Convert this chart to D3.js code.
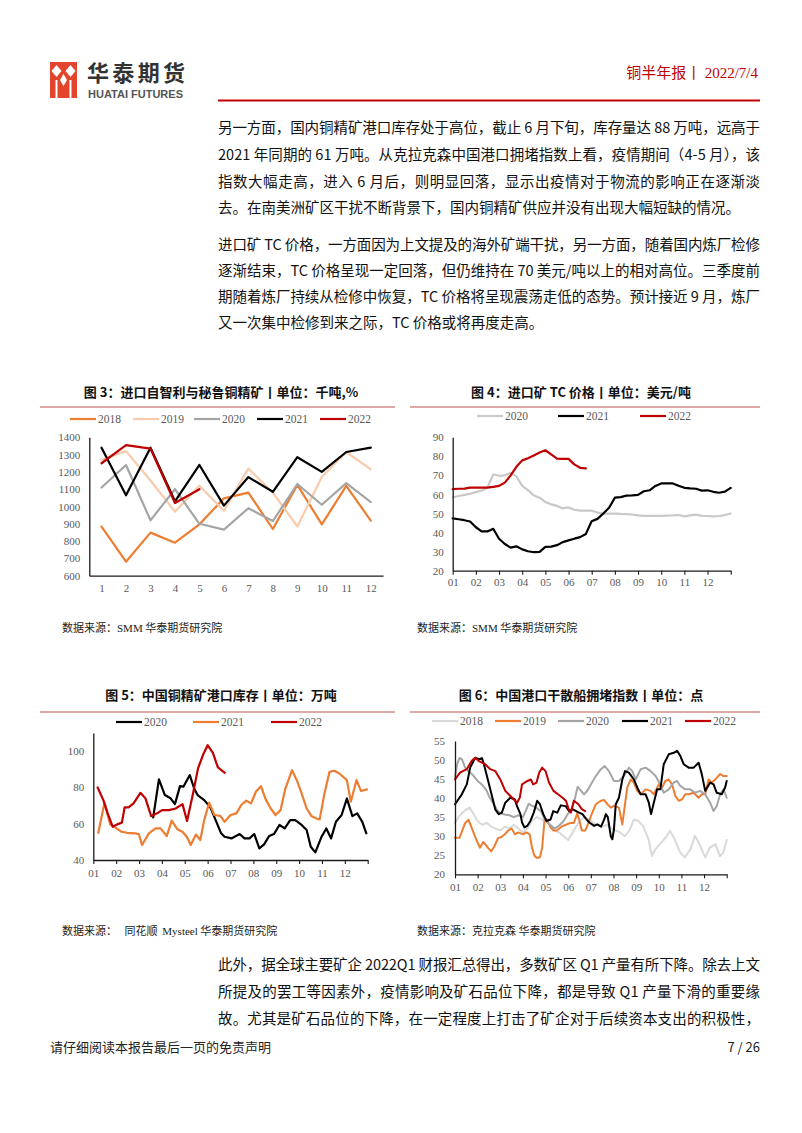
<!DOCTYPE html>
<html><head><meta charset="utf-8">
<script src="https://cdn.jsdelivr.net/npm/d3@7"></script>
<style>body{margin:0;background:#fff}svg{display:block}</style>
</head><body>
<svg id="page" width="802" height="1133"></svg>
<script>
// ---------------- DATA ----------------
// Chart 3: imports from Chile & Peru (kt), monthly
const months3 = ["1","2","3","4","5","6","7","8","9","10","11","12"];
const imp2018 = [884,681,849,791,897,1047,1080,870,1125,897,1119,918];
const imp2019 = [1270,1320,1150,970,1120,975,1220,1080,885,1170,1315,1215];
const imp2020 = [1110,1240,920,1100,900,866,990,916,1130,1010,1135,1025];
const imp2021 = [1340,1065,1340,1030,1240,1005,1170,1085,1285,1200,1315,1340];
const imp2022 = [1250,1355,1335,1020,1100];
const yTicks3 = [600,700,800,900,1000,1100,1200,1300,1400];

// Chart 4: TC price (USD/t), sampled every quarter month from Jan 1
const tcStep = 0.25;
const tc2020 = [58.5,59.2,59.8,60.3,61.3,62,63.7,70.6,69.8,70,71.3,69.5,64.5,62.3,59.5,58.3,56,54.8,54,52.7,53.2,52,51.5,51.5,51.5,50.5,50,50,50,49.8,49.7,49.5,49,48.8,48.8,48.8,48.8,48.9,49,49.2,48.5,49,49.4,48.8,48.7,48.5,48.7,49.2,50];
const tc2021 = [47.5,47,46.5,45.8,42.8,40.6,40.6,42,36.8,34,32.1,32.8,31.2,30.2,29.7,29.9,32.5,32.6,33.4,35,35.9,36.8,37.6,39.3,46,47.2,50,53,58.3,58.6,59.4,59.5,59.8,61.7,62.2,64.5,65.8,65.8,65.8,64.6,63.5,63.2,63,62,62.2,61.4,60.9,61.5,63.5];
const tc2022 = [62.8,63,63.1,63.6,63.6,63.6,63.6,64,64.5,66.2,70,74.5,77.9,79,80.5,82,83.2,81,78.8,78.7,78.7,75.8,74,73.7];
const yTicks4 = [20,30,40,50,60,70,80,90];
const monthLabels = ["01","02","03","04","05","06","07","08","09","10","11","12"];

// Chart 5: port inventory (10kt); [months elapsed since Jan 1, value]
const inv2020 = [[2.62,63.5],[2.87,84.4],[3.13,75.8],[3.38,74],[3.57,70.8],[3.79,80.7],[3.94,80.4],[4.22,86.8],[4.41,79.4],[4.56,75.8],[4.85,73],[5.12,69],[5.35,62],[5.59,54.7],[5.74,52.8],[6.04,51.9],[6.4,54.3],[6.61,51.9],[6.83,51.9],[7.04,54.3],[7.26,46.4],[7.47,48.6],[7.69,53.2],[7.9,54.3],[8.14,59.3],[8.37,57.4],[8.61,62],[8.83,62],[9.11,59.3],[9.33,56.5],[9.51,47.3],[9.71,44.2],[9.97,52.5],[10.19,57.4],[10.4,51.9],[10.61,61.1],[10.86,64.8],[11.09,73.9],[11.33,64.2],[11.54,65.7],[11.76,61.1],[11.94,54.7]];
const inv2021 = [[0.22,55],[0.49,71.6],[0.74,59.6],[0.96,58],[1.22,55.6],[1.47,55],[1.84,54.7],[1.99,54.3],[2.13,48.3],[2.43,54.7],[2.72,57.4],[2.94,57.4],[3.21,53.2],[3.43,61.7],[3.68,56.9],[3.9,55.6],[4.09,52.8],[4.26,48.3],[4.49,54],[4.68,51],[4.85,62],[5.07,71.6],[5.29,64.8],[5.56,64.3],[5.74,61],[6.0,64.8],[6.26,65.7],[6.47,70.3],[6.69,72.7],[6.9,71.2],[7.11,77.6],[7.33,80.7],[7.54,73.4],[7.76,68.4],[7.97,64.8],[8.19,67.5],[8.4,79.4],[8.69,89.5],[8.9,84],[9.11,76.7],[9.33,68.4],[9.54,64.2],[9.76,62.9],[9.9,62.4],[10.11,76.7],[10.33,88.6],[10.54,89.2],[10.76,87.7],[11.09,84],[11.26,72.1],[11.51,84],[11.71,78],[11.97,78.9]];
const inv2022 = [[0.19,80],[0.44,73],[0.63,65.7],[0.85,58.3],[1.02,59.5],[1.25,60.6],[1.37,69],[1.54,69],[1.76,71.2],[2.06,77],[2.28,74],[2.53,64.2],[2.79,65.7],[3.01,67.5],[3.31,67.5],[3.6,68.4],[3.9,70.8],[4.1,61.5],[4.35,76],[4.58,90.5],[4.8,98],[5.0,103.3],[5.23,99],[5.45,91],[5.75,88]];
const yTicks5 = [40,60,80,100];

// Chart 6: China port dry-bulk congestion index; [months elapsed, value]
const cg2018 = [[0,33.5],[0.15,35],[0.3,36],[0.5,37],[0.65,37.5],[0.8,36],[1.0,34],[1.2,33],[1.4,33.5],[1.6,32.5],[1.8,32],[2.0,31.5],[2.2,32.5],[2.4,32],[2.6,33],[2.8,32],[3.0,31],[3.2,32],[3.4,34],[3.6,35],[3.8,34.5],[4.0,34],[4.2,33],[4.4,31.5],[4.6,31],[4.8,30],[5.0,29],[5.15,30.5],[5.3,32],[5.5,34],[5.7,35],[5.9,34.5],[6.1,33.5],[6.3,33],[6.5,32.5],[6.7,33],[6.9,32],[7.1,31.5],[7.3,31],[7.5,30],[7.7,31.5],[7.9,34.4],[8.1,34],[8.3,32.7],[8.55,29.2],[8.7,24.8],[8.85,26.6],[9.05,27.9],[9.3,29.6],[9.5,31.4],[9.7,29.2],[9.95,25.7],[10.15,24.4],[10.4,26.6],[10.6,30.1],[10.8,27.9],[11.05,24.4],[11.25,27],[11.5,27.9],[11.7,24.8],[11.85,25.7],[12,29]];
const cg2019 = [[0,29.6],[0.2,29.6],[0.45,33.5],[0.6,34.3],[0.75,32],[0.95,29],[1.1,27],[1.25,28.5],[1.45,27],[1.6,26],[1.75,27.5],[1.9,29.5],[2.05,29.8],[2.2,30.5],[2.35,31.5],[2.5,32],[2.65,30.5],[2.8,31],[3.0,30.5],[3.15,31],[3.3,30.5],[3.4,27],[3.5,25],[3.6,24.3],[3.75,24.5],[3.85,27],[3.95,34],[4.05,34.5],[4.2,32.5],[4.35,31.5],[4.5,31.5],[4.7,32.5],[4.9,33],[5.1,33.5],[5.25,33.5],[5.4,36],[5.5,34],[5.6,31.5],[5.75,31.5],[5.9,33.5],[6.0,35.3],[6.22,38.4],[6.44,39.3],[6.59,39.5],[6.73,38.4],[6.88,37.5],[7.02,38],[7.24,37.5],[7.39,33.1],[7.5,38],[7.61,42.8],[7.76,44.9],[7.9,44.1],[8.05,41.9],[8.2,41],[8.42,42.3],[8.64,41.9],[8.78,41],[9.0,43.6],[9.15,42.8],[9.29,44.5],[9.44,44.9],[9.59,43.6],[9.73,40.6],[9.88,39.3],[10.03,39.7],[10.17,41],[10.32,41],[10.54,41.4],[10.76,40.1],[10.9,41],[11.05,41],[11.2,44.9],[11.34,44.1],[11.49,44.9],[11.71,46.3],[11.86,45.8],[12,45.8]];
const cg2020 = [[0,45.5],[0.1,49],[0.2,50.5],[0.3,50.3],[0.45,48],[0.6,47],[0.8,46],[1.0,44.5],[1.2,43.5],[1.4,42],[1.5,40.5],[1.7,38.5],[1.85,37],[2.0,36],[2.2,35.7],[2.4,35.5],[2.6,35],[2.8,35.5],[3.0,35],[3.15,37],[3.25,38.5],[3.4,38],[3.6,37.5],[3.8,36.5],[4.0,34],[4.2,33],[4.4,32],[4.6,32.8],[4.8,34],[5.0,36],[5.15,37],[5.3,40],[5.42,43],[5.55,42],[5.7,41],[5.85,42],[6.0,43.6],[6.22,45.8],[6.44,47.6],[6.61,48.4],[6.8,47.1],[7.02,44.5],[7.24,44.5],[7.46,45.8],[7.68,48],[7.83,47.1],[7.98,44.9],[8.2,47.6],[8.42,48],[8.64,47.1],[8.86,45.8],[9.07,43.6],[9.22,41.4],[9.44,42.3],[9.66,44.1],[9.81,44.5],[9.95,43.2],[10.17,42.3],[10.39,42.3],[10.61,41.4],[10.83,41.9],[11.05,41],[11.27,38.8],[11.42,36.6],[11.56,37.9],[11.71,41],[11.86,42.3],[12,40.1]];
const cg2021 = [[0,38.4],[0.3,41],[0.52,43.6],[0.67,48],[0.89,50.6],[1.08,50.2],[1.19,50.5],[1.26,49.3],[1.41,45.8],[1.63,40.6],[1.78,37],[1.93,35.8],[2.07,36.2],[2.22,38.8],[2.44,40.1],[2.64,39.7],[2.74,37.9],[2.89,35.8],[2.96,33.6],[3.07,32.3],[3.19,32.7],[3.33,34],[3.48,36.2],[3.63,39.3],[3.75,38.4],[3.9,35.8],[4.04,34],[4.22,34.4],[4.34,36.6],[4.52,36.2],[4.67,38.1],[4.89,37.9],[5.04,36.6],[5.19,37.1],[5.41,36.4],[5.63,35.8],[5.78,34.6],[5.93,33.6],[6.15,32.7],[6.29,33.1],[6.45,32.5],[6.59,34.4],[6.66,35.8],[6.75,35],[6.88,30],[6.95,29.2],[7.02,31.8],[7.1,38.4],[7.24,40.1],[7.39,44.9],[7.51,47.1],[7.68,46.7],[7.9,44.9],[8.05,42.8],[8.2,41],[8.42,41],[8.56,38.8],[8.66,35.8],[8.78,38.8],[8.93,42.3],[9.07,42.3],[9.22,48.9],[9.44,51.5],[9.66,51.9],[9.81,52.4],[9.95,51.1],[10.1,48.9],[10.32,48],[10.54,48],[10.76,49.3],[10.9,46.3],[11.05,41.9],[11.27,44.1],[11.42,43.6],[11.56,41.4],[11.78,41],[11.93,42.8],[12,44.5]];
const cg2022 = [[0,44.9],[0.22,46.7],[0.52,47.6],[0.74,49.8],[0.89,50.6],[1.04,49.8],[1.19,49.3],[1.33,48.9],[1.56,47.6],[1.78,47.1],[2.0,44.9],[2.22,41.9],[2.37,41],[2.59,39.7],[2.74,38.8],[2.86,40.1],[2.96,43.6],[3.19,44.5],[3.35,44.9],[3.45,43.6],[3.6,44.1],[3.72,46.7],[3.85,48],[4.0,47.1],[4.15,44.1],[4.35,41.9],[4.55,41],[4.75,40.1],[4.9,39.3],[5.02,37.1],[5.12,36.2],[5.25,39.3],[5.45,38.4],[5.6,37.1],[5.75,36.6]];
const yTicks6 = [20,25,30,35,40,45,50,55];

// Text
const para1 = ["另一方面，国内铜精矿港口库存处于高位，截止 6 月下旬，库存量达 88 万吨，远高于",
  "2021 年同期的 61 万吨。从克拉克森中国港口拥堵指数上看，疫情期间（4-5 月），该",
  "指数大幅走高，进入 6 月后，则明显回落，显示出疫情对于物流的影响正在逐渐淡",
  "去。在南美洲矿区干扰不断背景下，国内铜精矿供应并没有出现大幅短缺的情况。"];
const para2 = ["进口矿 TC 价格，一方面因为上文提及的海外矿端干扰，另一方面，随着国内炼厂检修",
  "逐渐结束，TC 价格呈现一定回落，但仍维持在 70 美元/吨以上的相对高位。三季度前",
  "期随着炼厂持续从检修中恢复，TC 价格将呈现震荡走低的态势。预计接近 9 月，炼厂",
  "又一次集中检修到来之际，TC 价格或将再度走高。"];
const para3 = ["此外，据全球主要矿企 2022Q1 财报汇总得出，多数矿区 Q1 产量有所下降。除去上文",
  "所提及的罢工等因素外，疫情影响及矿石品位下降，都是导致 Q1 产量下滑的重要缘",
  "故。尤其是矿石品位的下降，在一定程度上打击了矿企对于后续资本支出的积极性，"];

// ---------------- DRAW ----------------
const CJK = "'Noto Sans CJK SC','Noto Sans',sans-serif";
const SERIF = "'Liberation Serif','Times New Roman',serif";
const svg = d3.select("#page");
svg.append("rect").attr("width",802).attr("height",1133).attr("fill","#fff");

// Header logo
const logo = svg.append("g");
logo.append("rect").attr("x",50).attr("y",62).attr("width",27).attr("height",36).attr("fill","#E2452B");
[[56.5,71],[70.5,71]].forEach(([cx,cy])=>{
  logo.append("path").attr("d",`M${cx},${cy-6}L${cx+5},${cy}L${cx},${cy+6}L${cx-5},${cy}Z`).attr("fill","#fff");
});
logo.append("rect").attr("x",55.5).attr("y",80).attr("width",2).attr("height",18).attr("fill","#fff");
logo.append("rect").attr("x",69.5).attr("y",80).attr("width",2).attr("height",18).attr("fill","#fff");
logo.append("path").attr("d","M63.5,74L67,80L63.5,86L60,80Z").attr("fill","#fff");
svg.append("text").attr("x",87).attr("y",81).attr("font-family",CJK).attr("font-size",22).attr("font-weight",700)
  .attr("fill","#333").attr("textLength",98).text("华泰期货");
svg.append("text").attr("x",88).attr("y",98).attr("font-family","'Liberation Sans',Arial,sans-serif").attr("font-size",11).attr("font-weight",700)
  .attr("fill","#555").attr("textLength",95).attr("lengthAdjust","spacingAndGlyphs").text("HUATAI FUTURES");
const hdr = svg.append("text").attr("x",758).attr("y",78).attr("text-anchor","end").attr("fill","#C00000").attr("font-size",15);
hdr.append("tspan").attr("font-family",CJK).text("铜半年报丨 ");
hdr.append("tspan").attr("font-family",SERIF).text("2022/7/4");
svg.append("line").attr("x1",218).attr("x2",760).attr("y1",100.5).attr("y2",100.5).attr("stroke","#C00000").attr("stroke-width",1.8);

// Body paragraphs
function para(lines, y0, lh, lastFull){
  lines.forEach((s,i)=>{
    const t = svg.append("text").attr("x",218).attr("y",y0+i*lh).attr("font-family",CJK)
      .attr("font-size",14.5).attr("fill","#111").text(s);
    if (i < lines.length-1 || lastFull) t.attr("textLength",542).attr("lengthAdjust","spacing");
  });
}
para(para1, 133, 26.8, false);
para(para2, 250, 26, false);
para(para3, 970, 27, true);

// Footer
svg.append("text").attr("x",50).attr("y",1052).attr("font-family",CJK).attr("font-size",13).attr("fill","#222").text("请仔细阅读本报告最后一页的免责声明");
svg.append("text").attr("x",760).attr("y",1052).attr("text-anchor","end").attr("font-family",CJK).attr("font-size",13).attr("fill","#222").text("7 / 26");

// ---------- helpers ----------
function title(cx, y, txt){
  svg.append("text").attr("x",cx).attr("y",y).attr("text-anchor","middle").attr("font-family",CJK)
    .attr("font-size",13).attr("font-weight",700).attr("fill","#111").text(txt);
}
function sep(x1,x2,y){
  svg.append("line").attr("x1",x1).attr("x2",x2).attr("y1",y).attr("y2",y).attr("stroke","#C0504D").attr("stroke-width",1);
}
function legend(items, y){
  items.forEach(it=>{
    svg.append("line").attr("x1",it.x).attr("x2",it.x+26).attr("y1",y).attr("y2",y).attr("stroke",it.c).attr("stroke-width",2.2);
    svg.append("text").attr("x",it.x+28).attr("y",y+4).attr("font-family",SERIF).attr("font-size",11.5).attr("fill","#595959").text(it.t);
  });
}
function source(x,y,parts){
  const t = svg.append("text").attr("x",x).attr("y",y).attr("font-size",11).attr("fill","#222").attr("xml:space","preserve");
  parts.forEach(p=>t.append("tspan").attr("font-family",p[1]?SERIF:CJK).text(p[0]));
}
function styleAxis(g){
  g.select(".domain").attr("stroke","#1a1a1a").attr("stroke-width",1.3);
  g.selectAll(".tick line").attr("stroke","#1a1a1a").attr("stroke-width",1.1);
  g.selectAll("text").attr("font-family",SERIF).attr("font-size",11).attr("fill","#595959");
}
function drawLine(g, data, x, y, color, w){
  g.append("path").datum(data).attr("fill","none").attr("stroke",color).attr("stroke-width",w)
    .attr("stroke-linejoin","round").attr("stroke-linecap","round")
    .attr("d", d3.line().x(d=>x(d[0])).y(d=>y(d[1])));
}
const intFmt = d3.format("d");

// ---------- Chart 3 ----------
title(221, 397, "图 3：进口自智利与秘鲁铜精矿丨单位：千吨,%");
sep(40,395,407);
legend([{x:70,c:"#ED7D31",t:"2018"},{x:133,c:"#F8CBAD",t:"2019"},{x:194,c:"#A5A5A5",t:"2020"},{x:257,c:"#000",t:"2021"},{x:320,c:"#C00000",t:"2022"}], 419);
{
  const x = d3.scalePoint().domain(months3).range([89.3,383]).padding(0.5);
  const y = d3.scaleLinear().domain([600,1400]).range([575.7,437.3]);
  const g = svg.append("g");
  const series = [[imp2018,"#ED7D31"],[imp2019,"#F8CBAD"],[imp2020,"#A5A5A5"],[imp2021,"#000"],[imp2022,"#C00000"]];
  series.forEach(([arr,c])=>drawLine(g, arr.map((v,i)=>[months3[i],v]), x, y, c, 2.2));
  const ay = svg.append("g").attr("transform","translate(89.3,0)").call(d3.axisLeft(y).tickValues(yTicks3).tickFormat(intFmt).tickSize(0).tickPadding(9).tickSizeOuter(0));
  const ax = svg.append("g").attr("transform","translate(0,575.7)").call(d3.axisBottom(x).tickSize(0).tickPadding(9).tickSizeOuter(0));
  styleAxis(ay); styleAxis(ax);
}
source(62, 632, [["数据来源：",0],["SMM",1],[" 华泰期货研究院",0]]);

// ---------- Chart 4 ----------
title(581, 397, "图 4：进口矿 TC 价格丨单位：美元/吨");
sep(410,760,407);
legend([{x:477,c:"#C9C9C9",t:"2020"},{x:558,c:"#000",t:"2021"},{x:640,c:"#C00000",t:"2022"}], 416);
{
  const x = d3.scaleLinear().domain([0,12]).range([452.7,730.7]);
  const y = d3.scaleLinear().domain([20,90]).range([570.7,437.3]);
  const g = svg.append("g");
  [[tc2020,"#C9C9C9"],[tc2021,"#000"],[tc2022,"#C00000"]].forEach(([arr,c])=>
    drawLine(g, arr.map((v,i)=>[i*tcStep,v]), x, y, c, 2.2));
  const ay = svg.append("g").attr("transform","translate(452.7,0)").call(d3.axisLeft(y).tickValues(yTicks4).tickFormat(intFmt).tickSize(0).tickPadding(9).tickSizeOuter(0));
  const ax = svg.append("g").attr("transform","translate(0,570.7)").call(d3.axisBottom(x).tickValues(d3.range(13)).tickFormat(d=>monthLabels[d]||"").tickSize(4).tickPadding(4).tickSizeOuter(0));
  styleAxis(ay); styleAxis(ax);
}
source(417, 632, [["数据来源：",0],["SMM",1],[" 华泰期货研究院",0]]);

// ---------- Chart 5 ----------
title(221, 700, "图 5：中国铜精矿港口库存丨单位：万吨");
sep(40,395,712);
legend([{x:116,c:"#000",t:"2020"},{x:193,c:"#ED7D31",t:"2021"},{x:271,c:"#C00000",t:"2022"}], 722);
{
  const x = d3.scaleLinear().domain([0,12]).range([93.3,367.7]);
  const y = d3.scaleLinear().domain([40,110]).range([860,733]);
  const g = svg.append("g");
  [[inv2020,"#000"],[inv2021,"#ED7D31"],[inv2022,"#C00000"]].forEach(([arr,c])=>drawLine(g, arr, x, y, c, 2.2));
  const ay = svg.append("g").attr("transform","translate(93.3,0)").call(d3.axisLeft(y).tickValues(yTicks5).tickFormat(intFmt).tickSize(0).tickPadding(9).tickSizeOuter(0));
  const ax = svg.append("g").attr("transform","translate(0,860)").call(d3.axisBottom(x).tickValues(d3.range(13)).tickFormat(d=>monthLabels[d]||"").tickSize(4).tickPadding(5).tickSizeOuter(0));
  styleAxis(ay); styleAxis(ax);
}
source(62, 935, [["数据来源：   同花顺  ",0],["Mysteel",1],[" 华泰期货研究院",0]]);

// ---------- Chart 6 ----------
title(581, 700, "图 6：中国港口干散船拥堵指数丨单位：点");
sep(410,760,712);
legend([{x:432,c:"#D9D9D9",t:"2018"},{x:495,c:"#ED7D31",t:"2019"},{x:558,c:"#A5A5A5",t:"2020"},{x:622,c:"#000",t:"2021"},{x:685,c:"#C00000",t:"2022"}], 721);
{
  const x = d3.scaleLinear().domain([0,12]).range([455,726.7]);
  const y = d3.scaleLinear().domain([20,55]).range([874.3,741]);
  const g = svg.append("g");
  [[cg2018,"#D9D9D9"],[cg2019,"#ED7D31"],[cg2020,"#A5A5A5"],[cg2021,"#000"],[cg2022,"#C00000"]].forEach(([arr,c])=>drawLine(g, arr, x, y, c, 2));
  const ay = svg.append("g").attr("transform","translate(455,0)").call(d3.axisLeft(y).tickValues(yTicks6).tickFormat(intFmt).tickSize(0).tickPadding(10).tickSizeOuter(0));
  const ax = svg.append("g").attr("transform","translate(0,874.3)").call(d3.axisBottom(x).tickValues(d3.range(13)).tickFormat(d=>monthLabels[d]||"").tickSize(4).tickPadding(4.5).tickSizeOuter(0));
  styleAxis(ay); styleAxis(ax);
}
source(417, 935, [["数据来源：克拉克森 华泰期货研究院",0]]);
</script>
</body></html>
